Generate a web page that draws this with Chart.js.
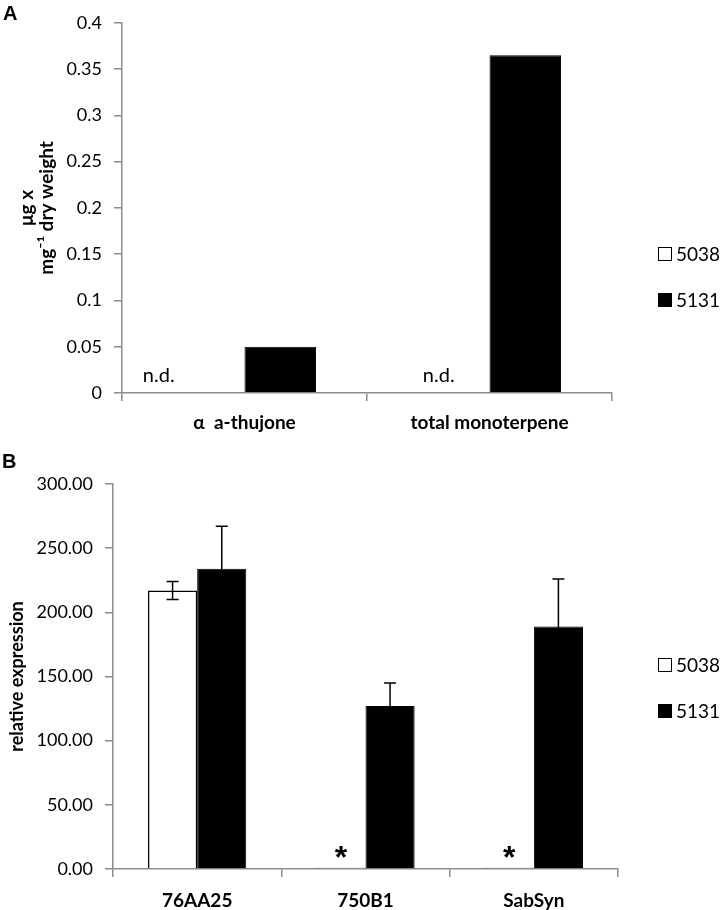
<!DOCTYPE html>
<html>
<head>
<meta charset="utf-8">
<script src="https://cdn.jsdelivr.net/npm/chart.js@4.4.1/dist/chart.umd.min.js"></script>
<style>
  body { margin: 0; background: #fff; }
  canvas { display: block; }
</style>
</head>
<body>
<canvas id="chartA" width="720" height="440"></canvas>
<canvas id="chartB" width="720" height="470"></canvas>
<script>
// series shared by both panels
const seriesNames = ["5038", "5131"];
const seriesColors = ["#ffffff", "#000000"];

// panel A - metabolite content
const catsA = ["α  a-thujone", "total monoterpene"];
const valsA5038 = [0, 0];
const valsA5131 = [0.05, 0.365];
const notesA = ["n.d.", "n.d."];

// panel B - relative expression
const catsB = ["76AA25", "750B1", "SabSyn"];
const valsB5038 = [217, 1, 1];
const errB5038 = [7, 0, 0];
const valsB5131 = [234, 127, 189];
const errB5131 = [33, 18, 37];
const starsB = ["", "*", "*"];

Chart.defaults.font.family = "Lato";
Chart.defaults.color = "#000";

const axisGrey = "#8c8c8c";

// error bars, n.d./asterisk notes, legend and panel letter
const extras = {
  id: "extras",
  afterDatasetsDraw(chart, args, opts) {
    const ctx = chart.ctx;
    const y = chart.scales.y;
    ctx.save();
    chart.data.datasets.forEach((ds, di) => {
      if (!ds.errors) return;
      chart.getDatasetMeta(di).data.forEach((bar, i) => {
        const e = ds.errors[i];
        if (!e) return;
        const v = ds.data[i];
        const yt = y.getPixelForValue(v + e);
        const yb = y.getPixelForValue(v - e);
        ctx.strokeStyle = "#000";
        ctx.lineWidth = 1.5;
        ctx.beginPath();
        ctx.moveTo(bar.x, yt); ctx.lineTo(bar.x, yb);
        ctx.moveTo(bar.x - 6, yt); ctx.lineTo(bar.x + 6, yt);
        ctx.moveTo(bar.x - 6, yb); ctx.lineTo(bar.x + 6, yb);
        ctx.stroke();
      });
    });
    if (opts.notes) {
      const meta = chart.getDatasetMeta(0);
      ctx.fillStyle = "#000";
      ctx.font = opts.noteFont;
      ctx.textAlign = "center";
      ctx.textBaseline = "alphabetic";
      opts.notes.forEach((t, i) => {
        if (!t) return;
        const bar = meta.data[i];
        const dx = opts.noteDx ? opts.noteDx[i] : 0;
        ctx.fillText(t, bar.x + dx, bar.y - opts.noteLift);
      });
    }
    ctx.restore();
  },
  afterDraw(chart, args, opts) {
    const ctx = chart.ctx;
    ctx.save();
    const lg = opts.legend;
    seriesNames.forEach((n, i) => {
      const cy = lg.y + i * lg.gap;
      ctx.fillStyle = seriesColors[i];
      ctx.fillRect(lg.x, cy - 7, 14, 14);
      ctx.strokeStyle = "#000";
      ctx.lineWidth = 1;
      ctx.strokeRect(lg.x + 0.5, cy - 6.5, 13, 13);
      ctx.fillStyle = "#000";
      ctx.font = "19px Lato";
      ctx.textAlign = "left";
      ctx.textBaseline = "middle";
      ctx.fillText(n, lg.x + 18, cy + 1);
    });
    ctx.font = "bold 20px 'Liberation Sans'";
    ctx.textAlign = "left";
    ctx.textBaseline = "alphabetic";
    ctx.fillText(opts.letter.text, opts.letter.x, opts.letter.y);
    ctx.restore();
  }
};

function axisX(h, pad) {
  return {
    grid: { offset: true, drawOnChartArea: false, tickLength: 8, color: axisGrey, lineWidth: 1.5 },
    border: { color: axisGrey, width: 1.5 },
    ticks: { padding: pad, font: { size: 19, weight: "bold" } },
    afterFit(s) { s.height = h; }
  };
}

// panel A
new Chart(document.getElementById("chartA"), {
  type: "bar",
  data: {
    labels: catsA,
    datasets: [
      { label: seriesNames[0], data: valsA5038, backgroundColor: seriesColors[0], borderColor: "#000", borderWidth: 0 },
      { label: seriesNames[1], data: valsA5131, backgroundColor: seriesColors[1], borderColor: "#000", borderWidth: 1 }
    ]
  },
  options: {
    responsive: false,
    animation: false,
    layout: { padding: { top: 11, right: 108, left: 0, bottom: 0 } },
    datasets: { bar: { categoryPercentage: 0.584, barPercentage: 1 } },
    plugins: {
      legend: { display: false },
      tooltip: { enabled: false },
      extras: {
        notes: notesA, noteDx: [-50, -15], noteLift: 11, noteFont: "20px Lato",
        legend: { x: 658, y: 254, gap: 46 },
        letter: { text: "A", x: 3, y: 20 }
      }
    },
    scales: {
      x: axisX(47, 10),
      y: {
        min: 0, max: 0.4,
        ticks: { stepSize: 0.05, padding: 12, font: { size: 18 }, callback: v => String(Math.round(v * 100) / 100) },
        grid: { drawOnChartArea: false, tickLength: 8, color: axisGrey, lineWidth: 1.5 },
        border: { color: axisGrey, width: 1.5 },
        title: { display: true, text: ["μg x", "mg⁻¹ dry weight"], font: { size: 19, weight: "bold", lineHeight: 1.1 }, padding: { top: 16, bottom: 0 } },
        afterFit(s) { s.width = 122; }
      }
    }
  },
  plugins: [extras]
});

// panel B
new Chart(document.getElementById("chartB"), {
  type: "bar",
  data: {
    labels: catsB,
    datasets: [
      { label: seriesNames[0], data: valsB5038, errors: errB5038, backgroundColor: seriesColors[0], borderColor: "#000", borderWidth: 1.5 },
      { label: seriesNames[1], data: valsB5131, errors: errB5131, backgroundColor: seriesColors[1], borderColor: "#000", borderWidth: 1 }
    ]
  },
  options: {
    responsive: false,
    animation: false,
    layout: { padding: { top: 44, right: 102, left: 0, bottom: 0 } },
    datasets: { bar: { categoryPercentage: 0.584, barPercentage: 1 } },
    plugins: {
      legend: { display: false },
      tooltip: { enabled: false },
      extras: {
        notes: starsB, noteLift: 0, noteFont: "bold 32px 'Liberation Sans'",
        legend: { x: 658, y: 225, gap: 46 },
        letter: { text: "B", x: 2, y: 28 }
      }
    },
    scales: {
      x: axisX(41, 12),
      y: {
        min: 0, max: 300,
        ticks: { stepSize: 50, padding: 12, font: { size: 18 }, callback: v => v.toFixed(2) },
        grid: { drawOnChartArea: false, tickLength: 8, color: axisGrey, lineWidth: 1.5 },
        border: { color: axisGrey, width: 1.5 },
        title: { display: true, text: "relative expression", font: { size: 18, weight: "bold" }, padding: { top: 6, bottom: 0 } },
        afterFit(s) { s.width = 113; }
      }
    }
  },
  plugins: [extras]
});
</script>
</body>
</html>
